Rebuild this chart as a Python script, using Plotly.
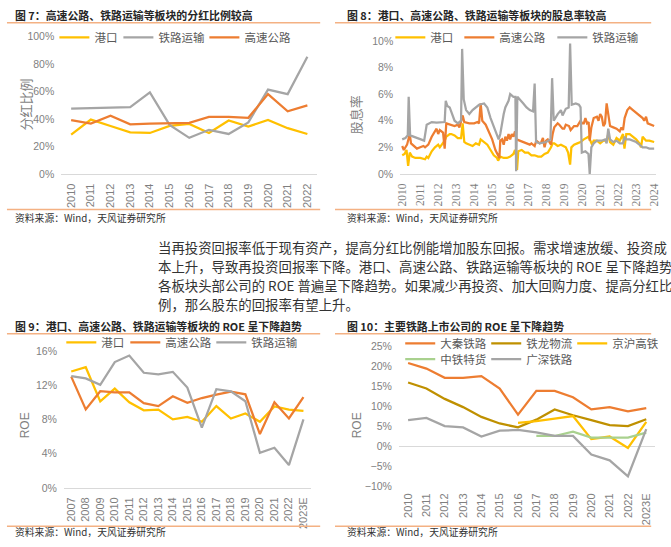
import plotly.graph_objects as go

# ---------------- data ----------------
years7 = ["2010", "2011", "2012", "2013", "2014", "2015", "2016", "2017", "2018", "2019", "2020", "2021", "2022"]
port7 = [28.7, 39.6, 35.0, 30.4, 29.9, 35.0, 36.5, 29.9, 39.0, 34.6, 39.3, 33.4, 29.2]
rail7 = [47.5, 48.0, 48.0, 48.7, 59.3, 35.8, 26.4, 32.2, 29.2, 37.6, 61.4, 58.1, 85.2]
hwy7 = [39.3, 36.7, 42.4, 36.2, 36.7, 36.9, 37.2, 41.6, 41.6, 40.9, 58.1, 45.6, 49.9]

# dividend yield (%), (decimal year, value)
port8 = [(2010.00, 1.4), (2010.13, 1.5), (2010.24, 1.8), (2010.33, 0.6), (2010.42, 1.6), (2010.55, 1.3),
         (2010.73, 1.2), (2011.00, 1.2), (2011.27, 1.1), (2011.36, 1.3), (2011.45, 1.2), (2011.55, 1.5),
         (2011.64, 1.7), (2011.82, 2.0), (2012.00, 2.2), (2012.09, 2.0), (2012.27, 2.3), (2012.36, 2.5),
         (2012.45, 2.8), (2012.64, 3.0), (2012.73, 3.0), (2012.91, 2.9), (2013.09, 2.7), (2013.27, 2.7),
         (2013.36, 3.8), (2013.45, 2.4), (2013.55, 2.3), (2013.73, 2.2), (2013.91, 2.1), (2014.09, 2.3),
         (2014.27, 2.2), (2014.36, 2.6), (2014.55, 2.4), (2014.73, 2.2), (2014.91, 1.8), (2015.09, 1.4),
         (2015.27, 1.2), (2015.33, 1.0), (2015.45, 1.3), (2015.64, 1.2), (2015.82, 1.2), (2016.00, 1.3),
         (2016.18, 1.5), (2016.27, 1.8), (2016.33, 1.4), (2016.38, 0.3), (2016.45, 1.7), (2016.64, 1.8),
         (2016.82, 1.6), (2017.00, 1.6), (2017.18, 1.4), (2017.36, 1.4), (2017.55, 1.3), (2017.73, 1.3),
         (2017.91, 1.5), (2018.09, 1.6), (2018.27, 2.0), (2018.36, 2.3), (2018.45, 2.3), (2018.64, 2.1),
         (2018.82, 2.2), (2019.00, 2.1), (2019.09, 2.0), (2019.22, 1.6), (2019.33, 0.7), (2019.40, 2.0),
         (2019.55, 2.2), (2019.73, 2.3), (2019.91, 2.4), (2020.09, 2.6), (2020.27, 2.7), (2020.36, 2.8),
         (2020.55, 2.2), (2020.64, 2.5), (2020.82, 2.5), (2021.00, 2.3), (2021.18, 2.5), (2021.36, 2.5),
         (2021.45, 3.0), (2021.55, 2.4), (2021.73, 2.2), (2021.91, 2.7), (2022.09, 2.5), (2022.27, 3.0),
         (2022.35, 1.9), (2022.45, 3.0), (2022.64, 3.0), (2022.82, 2.8), (2023.00, 2.6), (2023.18, 2.3),
         (2023.27, 2.0), (2023.36, 2.8), (2023.55, 2.5), (2023.73, 2.5), (2024.00, 2.4)]
hwy8 = [(2010.00, 2.1), (2010.09, 1.8), (2010.27, 2.2), (2010.42, 3.0), (2010.49, 2.3), (2010.64, 2.1),
        (2010.82, 1.9), (2011.00, 2.0), (2011.18, 2.1), (2011.27, 2.0), (2011.45, 2.2), (2011.64, 2.8),
        (2011.82, 3.2), (2011.91, 3.4), (2012.00, 3.0), (2012.09, 3.3), (2012.27, 3.1), (2012.36, 1.9),
        (2012.45, 3.8), (2012.73, 3.7), (2012.91, 3.6), (2013.09, 3.7), (2013.18, 3.5), (2013.36, 4.4),
        (2013.45, 3.9), (2013.73, 3.8), (2014.00, 3.8), (2014.18, 3.9), (2014.27, 3.8), (2014.36, 5.3),
        (2014.45, 4.0), (2014.64, 3.7), (2014.82, 3.2), (2015.00, 2.6), (2015.18, 1.8), (2015.33, 1.3),
        (2015.40, 1.2), (2015.45, 2.5), (2015.55, 2.6), (2015.64, 2.2), (2015.73, 2.8), (2015.82, 2.5),
        (2015.91, 3.0), (2016.00, 2.6), (2016.09, 3.0), (2016.18, 2.8), (2016.27, 3.2), (2016.35, 2.6),
        (2016.55, 2.5), (2016.73, 2.4), (2016.91, 2.3), (2017.09, 2.2), (2017.18, 2.3), (2017.36, 2.1),
        (2017.45, 2.5), (2017.64, 2.3), (2017.73, 2.4), (2017.82, 2.7), (2017.91, 2.0), (2018.00, 2.5),
        (2018.09, 2.6), (2018.27, 2.2), (2018.36, 3.0), (2018.45, 3.5), (2018.64, 3.8), (2018.73, 3.7),
        (2018.91, 3.4), (2019.00, 3.4), (2019.09, 3.7), (2019.27, 3.6), (2019.36, 3.3), (2019.55, 3.6),
        (2019.73, 3.6), (2019.91, 4.0), (2020.00, 3.8), (2020.09, 3.8), (2020.18, 4.2), (2020.27, 3.8),
        (2020.36, 3.9), (2020.42, 2.5), (2020.51, 3.5), (2020.64, 4.2), (2020.82, 4.3), (2020.91, 4.0),
        (2021.00, 4.5), (2021.09, 4.3), (2021.18, 3.6), (2021.27, 3.8), (2021.36, 5.3), (2021.45, 4.5),
        (2021.55, 3.6), (2021.73, 3.5), (2021.91, 3.4), (2022.09, 3.2), (2022.18, 3.5), (2022.27, 3.3),
        (2022.36, 4.2), (2022.51, 4.8), (2022.64, 5.0), (2022.82, 4.8), (2023.00, 4.6), (2023.18, 4.4),
        (2023.36, 4.2), (2023.45, 4.0), (2023.55, 4.3), (2023.64, 3.8), (2023.82, 3.7), (2024.00, 3.6)]
rail8 = [(2010.00, 2.6), (2010.18, 2.7), (2010.31, 2.9), (2010.36, 5.8), (2010.44, 2.9), (2010.64, 2.8),
         (2010.82, 2.7), (2011.04, 2.6), (2011.22, 2.5), (2011.36, 3.7), (2011.64, 3.9), (2011.91, 3.85),
         (2012.36, 3.9), (2012.42, 5.5), (2012.51, 5.1), (2012.64, 5.0), (2012.78, 4.4), (2012.91, 4.0),
         (2013.09, 3.8), (2013.27, 4.0), (2013.33, 9.4), (2013.42, 5.6), (2013.55, 4.8), (2013.73, 4.5),
         (2013.91, 4.8), (2014.09, 5.0), (2014.27, 5.2), (2014.55, 5.3), (2014.73, 5.0), (2014.91, 4.2),
         (2015.09, 3.5), (2015.27, 2.8), (2015.36, 2.6), (2015.45, 3.0), (2015.55, 4.0), (2015.64, 4.5),
         (2015.73, 5.0), (2015.91, 5.5), (2016.00, 6.0), (2016.18, 5.8), (2016.29, 5.8), (2016.33, 0.2),
         (2016.40, 5.8), (2016.55, 5.6), (2016.73, 5.3), (2016.91, 5.0), (2017.09, 4.8), (2017.27, 4.7),
         (2017.36, 6.8), (2017.44, 2.4), (2017.64, 2.3), (2018.00, 2.4), (2018.24, 2.6), (2018.33, 7.2),
         (2018.42, 4.0), (2018.64, 4.5), (2018.82, 4.8), (2018.91, 4.4), (2019.09, 4.9), (2019.25, 5.0),
         (2019.33, 9.8), (2019.42, 5.2), (2019.64, 5.3), (2019.82, 5.2), (2019.91, 5.0), (2019.98, 1.6),
         (2020.18, 1.7), (2020.35, 1.5), (2020.42, 0.0), (2020.51, 2.0), (2020.64, 2.3), (2020.82, 2.5),
         (2021.09, 2.5), (2021.27, 2.6), (2021.36, 2.3), (2021.45, 3.4), (2021.55, 2.6), (2021.73, 2.4),
         (2021.91, 2.5), (2022.09, 2.3), (2022.27, 2.3), (2022.36, 2.8), (2022.45, 2.6), (2022.64, 2.6),
         (2022.82, 2.5), (2023.00, 2.4), (2023.18, 2.2), (2023.36, 2.0), (2023.55, 2.0), (2023.73, 1.9),
         (2024.00, 1.9)]
years8 = [2010, 2011, 2012, 2013, 2014, 2015, 2016, 2017, 2018, 2019, 2020, 2021, 2022, 2023, 2024]

years9 = ["2007", "2008", "2009", "2010", "2011", "2012", "2013", "2014", "2015", "2016", "2017",
          "2018", "2019", "2020", "2021", "2022", "2023E"]
port9 = [13.6, 14.1, 10.1, 11.6, 10.0, 9.07, 9.14, 8.0, 8.3, 7.73, 9.56, 8.11, 8.69, 7.73, 9.52, 9.14, 8.99]
hwy9 = [13.0, 9.18, 11.3, 11.16, 11.16, 9.9, 9.56, 10.7, 9.94, 10.5, 10.9, 11.24, 10.93, 6.29, 10.0, 8.11, 10.6]
rail9 = [13.07, 12.8, 12.04, 14.7, 15.47, 13.45, 13.26, 13.56, 11.73, 7.05, 11.54, 11.28, 10.13, 4.11, 4.69, 2.67, 8.0]

years10 = ["2010", "2011", "2012", "2013", "2014", "2015", "2016", "2017", "2018", "2019", "2020",
           "2021", "2022", "2023E"]
daqin = [20.9, 19.5, 17.2, 17.2, 17.6, 14.5, 7.95, 13.9, 13.9, 12.3, 9.26, 9.84, 8.77, 9.59]
tielong = [16.0, 14.5, 11.9, 9.84, 7.38, 5.74, 4.75, 6.7, 9.26, 7.79, 6.56, 5.33, 5.08, 6.8]
jinghu = [None, None, None, None, None, None, 5.9, 6.3, 6.97, 7.6, 1.8, 2.46, -0.41, 6.15]
zhongtie = [None, None, None, None, None, None, None, 2.6, 2.6, 3.7, 2.2, 2.2, 2.2, 3.44]
guangshen = [6.56, 7.13, 5.08, 4.75, 2.46, 3.93, 4.1, 3.5, 2.6, 2.6, -2.05, -3.5, -7.5, 4.34]

# ---------------- style ----------------
W, H = 671, 547
YELLOW = "#FFC000"
ORANGE = "#ED7D31"
GRAY = "#A5A5A5"
GOLD = "#BF9000"
GREEN = "#A9D18E"
RULE = "#F4B183"
TICK = "#7F7F7F"
CJK = "Noto Sans CJK SC"
SANS = "Liberation Sans, Noto Sans CJK SC"
LW = 2.25


def px(x):
    return x / W


def py(y):
    return 1 - y / H


fig = go.Figure()


def add(x, y, name, color, xa, ya, legend, lw):
    fig.add_trace(go.Scatter(x=x, y=y, name=name, mode="lines", xaxis=xa, yaxis=ya,
                             line=dict(color=color, width=LW), legend=legend,
                             legendwidth=lw, hoverinfo="skip"))


# Fig 7
add(years7, port7, "港口", YELLOW, "x", "y", "legend", 19)
add(years7, rail7, "铁路运输", GRAY, "x", "y", "legend", 41)
add(years7, hwy7, "高速公路", ORANGE, "x", "y", "legend", 47)

# Fig 8
add([p[0] for p in port8], [p[1] for p in port8], "港口", YELLOW, "x2", "y2", "legend2", 24)
add([p[0] for p in hwy8], [p[1] for p in hwy8], "高速公路", ORANGE, "x2", "y2", "legend2", 48)
add([p[0] for p in rail8], [p[1] for p in rail8], "铁路运输", GRAY, "x2", "y2", "legend2", 47)

# Fig 9
add(years9, port9, "港口", YELLOW, "x3", "y3", "legend3", 19)
add(years9, hwy9, "高速公路", ORANGE, "x3", "y3", "legend3", 41)
add(years9, rail9, "铁路运输", GRAY, "x3", "y3", "legend3", 47)

# Fig 10
add(years10, daqin, "大秦铁路", ORANGE, "x4", "y4", "legend4", 41)
add(years10, tielong, "铁龙物流", GOLD, "x4", "y4", "legend4", 41)
add(years10, jinghu, "京沪高铁", YELLOW, "x4", "y4", "legend4", 41)
add(years10, zhongtie, "中铁特货", GREEN, "x4", "y4", "legend5", 41)
add(years10, guangshen, "广深铁路", GRAY, "x4", "y4", "legend5", 41)


def xcat(domain, anchor, cats, line=True, font=SANS):
    return dict(domain=domain, anchor=anchor, type="category", range=[-0.5, len(cats) - 0.5],
                tickangle=-90, showgrid=False, zeroline=False, showline=line,
                linecolor="#D9D9D9", linewidth=1, ticks="",
                tickfont=dict(family=font, size=11, color=TICK), ticklabelstandoff=4,
                fixedrange=True)


def yval(domain, anchor, rng, dt, zl=False):
    return dict(domain=domain, anchor=anchor, range=rng, dtick=dt, tick0=0, ticksuffix="%",
                showgrid=False, zeroline=zl, zerolinecolor="#D9D9D9", zerolinewidth=1,
                showline=False, ticks="", tickfont=dict(family=SANS, size=10.5, color=TICK),
                ticklabelstandoff=6, fixedrange=True)


x2 = dict(domain=[px(401), px(660)], anchor="y2", range=[2009.89, 2024.11], tickvals=years8,
          tickangle=-90, showgrid=False, zeroline=False, showline=True, linecolor="#D9D9D9",
          ticks="", tickfont=dict(family="Liberation Serif, Noto Serif CJK SC", size=11.5, color=TICK),
          ticklabelstandoff=4, fixedrange=True)


def legend(x, y):
    return dict(x=px(x), y=py(y), xanchor="left", yanchor="middle", orientation="h",
                font=dict(family=CJK, size=11.5, color="#595959"), bgcolor="rgba(0,0,0,0)",
                itemwidth=30, borderwidth=0, itemclick=False, itemdoubleclick=False)


annotations = []


def text(x, y, s, size, color="#333333", anchor="left", angle=0, family=CJK):
    annotations.append(dict(x=px(x), y=py(y), xref="paper", yref="paper", text=s, showarrow=False,
                            xanchor=anchor, yanchor="middle", textangle=angle,
                            font=dict(family=family, size=size, color=color)))


# Titles
text(9, 9, "<b>图 7：高速公路、铁路运输等板块的分红比例较高</b>", 10.9, "#262626")
text(345, 9, "<b>图 8：港口、高速公路、铁路运输等板块的股息率较高</b>", 10.9, "#262626")
text(9, 327, "<b>图 9：港口、高速公路、铁路运输等板块的 ROE 呈下降趋势</b>", 10.9, "#262626")
text(345, 327, "<b>图 10：主要铁路上市公司的 ROE 呈下降趋势</b>", 10.9, "#262626")

# Sources
for sx, sy in [(9, 217), (345, 217), (9, 538), (345, 538)]:
    text(sx, sy, "资料来源：Wind，天风证券研究所", 9.8, "#333333")

# Axis titles
text(22, 101, "分红比例", 13, TICK, "center", -90)
text(356, 111, "股息率", 13, TICK, "center", -90)
text(21, 429, "ROE", 12, TICK, "center", -90, SANS)
text(357, 429, "ROE", 12, TICK, "center", -90, SANS)

# Paragraph
para = [
    "当再投资回报率低于现有资产，提高分红比例能增加股东回报。需求增速放缓、投资成",
    "本上升，导致再投资回报率下降。港口、高速公路、铁路运输等板块的 ROE 呈下降趋势",
    "各板块头部公司的 ROE 普遍呈下降趋势。如果减少再投资、加大回购力度、提高分红比",
    "例，那么股东的回报率有望上升。",
]
for i, line in enumerate(para):
    text(154, 246 + i * 19.6, line, 13.4, "#333333")

shapes = []
for (x0, x1) in [(3, 320), (335, 655)]:
    for yy in [17, 208, 335, 532]:
        shapes.append(dict(type="line", xref="paper", yref="paper", x0=px(x0), x1=px(x1),
                           y0=py(yy), y1=py(yy), line=dict(color=RULE, width=1.5)))

fig.update_layout(
    width=W, height=H, autosize=False, margin=dict(l=0, r=0, t=0, b=0),
    paper_bgcolor="white", plot_bgcolor="rgba(0,0,0,0)", showlegend=True,
    font=dict(family=CJK, size=11, color=TICK),
    xaxis=xcat([px(58), px(317)], "y", years7),
    yaxis=yval([py(172), py(31)], "x", [0, 100], 20),
    xaxis2=x2,
    yaxis2=yval([py(171.7), py(35.7)], "x2", [0, 10], 2),
    xaxis3=xcat([px(60.7), px(310.4)], "y3", years9),
    yaxis3=yval([py(492.7), py(352.7)], "x3", [0, 16], 4),
    xaxis4=xcat([px(399.7), px(659.3)], "y4", years10, line=False),
    yaxis4=yval([py(491), py(348.3)], "x4", [-10, 25], 5, zl=True),
    legend=legend(51, 32),
    legend2=legend(391, 32),
    legend3=legend(58, 344),
    legend4=legend(401, 345),
    legend5=legend(401, 361),
    annotations=annotations,
    shapes=shapes,
)

fig.write_html("out.html", config={"displayModeBar": False},
               post_script="document.body.style.margin='0';document.body.style.overflow='hidden';")
